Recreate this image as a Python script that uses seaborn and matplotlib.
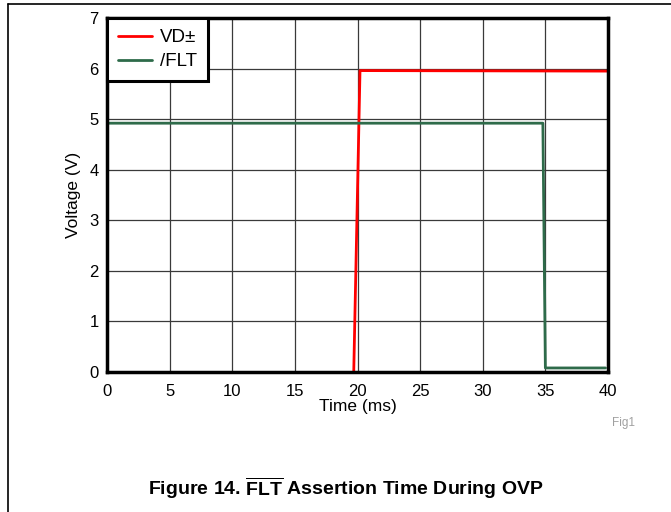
import matplotlib
matplotlib.use("Agg")
import matplotlib.pyplot as plt
from matplotlib.lines import Line2D
import seaborn as sns
import pandas as pd

# Data
vd_time = [19.7, 20.2, 40.0]
vd_volt = [0.0, 5.96, 5.95]
flt_time = [0.0, 34.8, 35.0, 39.8]
flt_volt = [4.92, 4.92, 0.08, 0.08]
series_names = ["VD\u00b1", "/FLT"]
series_colors = ["#ff0000", "#2e6b4a"]
x_ticks = [0, 5, 10, 15, 20, 25, 30, 35, 40]
y_ticks = [0, 1, 2, 3, 4, 5, 6, 7]

df = pd.concat([
    pd.DataFrame({"Time": vd_time, "Voltage": vd_volt, "Series": series_names[0]}),
    pd.DataFrame({"Time": flt_time, "Voltage": flt_volt, "Series": series_names[1]}),
], ignore_index=True)

sns.set_theme(style="white")
plt.rcParams["font.family"] = ["Liberation Sans", "DejaVu Sans"]
plt.rcParams["mathtext.fontset"] = "custom"
plt.rcParams["mathtext.bf"] = "Liberation Sans:bold"
plt.rcParams["mathtext.rm"] = "Liberation Sans"
plt.rcParams["text.color"] = "black"
plt.rcParams["axes.labelcolor"] = "black"

fig = plt.figure(figsize=(6.71, 5.12), dpi=100)
ax = fig.add_axes([107 / 671, 1 - 372 / 512, 501 / 671, 354 / 512])

sns.lineplot(data=df, x="Time", y="Voltage", hue="Series", palette=series_colors,
             hue_order=series_names, estimator=None, sort=False, linewidth=2,
             ax=ax, zorder=3)

ax.set_xlim(0, 40)
ax.set_ylim(0, 7)
ax.set_xticks(x_ticks)
ax.set_yticks(y_ticks)
ax.set_xticklabels([str(t) for t in x_ticks], fontsize=12)
ax.set_yticklabels([str(t) for t in y_ticks], fontsize=12)
ax.tick_params(axis="x", length=0, pad=9, colors="black")
ax.tick_params(axis="y", length=0, pad=6, colors="black")
ax.grid(True, color="#3a3a3a", linewidth=0.9)
ax.set_axisbelow(True)
for s in ax.spines.values():
    s.set_visible(True)
    s.set_color("black")
    s.set_linewidth(2.5)
    s.set_zorder(5)

ax.set_xlabel("Time (ms)", fontsize=12.5, labelpad=0)
ax.set_ylabel("Voltage (V)", fontsize=12.5, labelpad=6)

leg = ax.legend(loc="upper left", borderaxespad=0, fontsize=13.5, fancybox=False,
                framealpha=1, edgecolor="black", handlelength=1.8,
                handletextpad=0.4, borderpad=0.6, labelspacing=0.35)
leg.get_frame().set_linewidth(2.2)
leg.set_zorder(6)
for t in leg.get_texts():
    t.set_color("black")

fig.text(612 / 671, 1 - 423 / 512, "Fig1", fontsize=8.5, color="#a0a0a0",
         ha="left", va="center")
fig.text(346 / 671, 1 - 488 / 512,
         r"Figure 14. $\overline{\mathbf{FLT}}$ Assertion Time During OVP",
         fontsize=14, fontweight="bold", ha="center", va="center")

fig.add_artist(Line2D([8 / 671, 1.0], [1 - 4 / 512, 1 - 4 / 512],
                      transform=fig.transFigure, color="black", linewidth=1.2))
fig.add_artist(Line2D([8 / 671, 8 / 671], [1 - 4 / 512, 0.0],
                      transform=fig.transFigure, color="black", linewidth=1.2))

fig.savefig("out.png", dpi=100)
